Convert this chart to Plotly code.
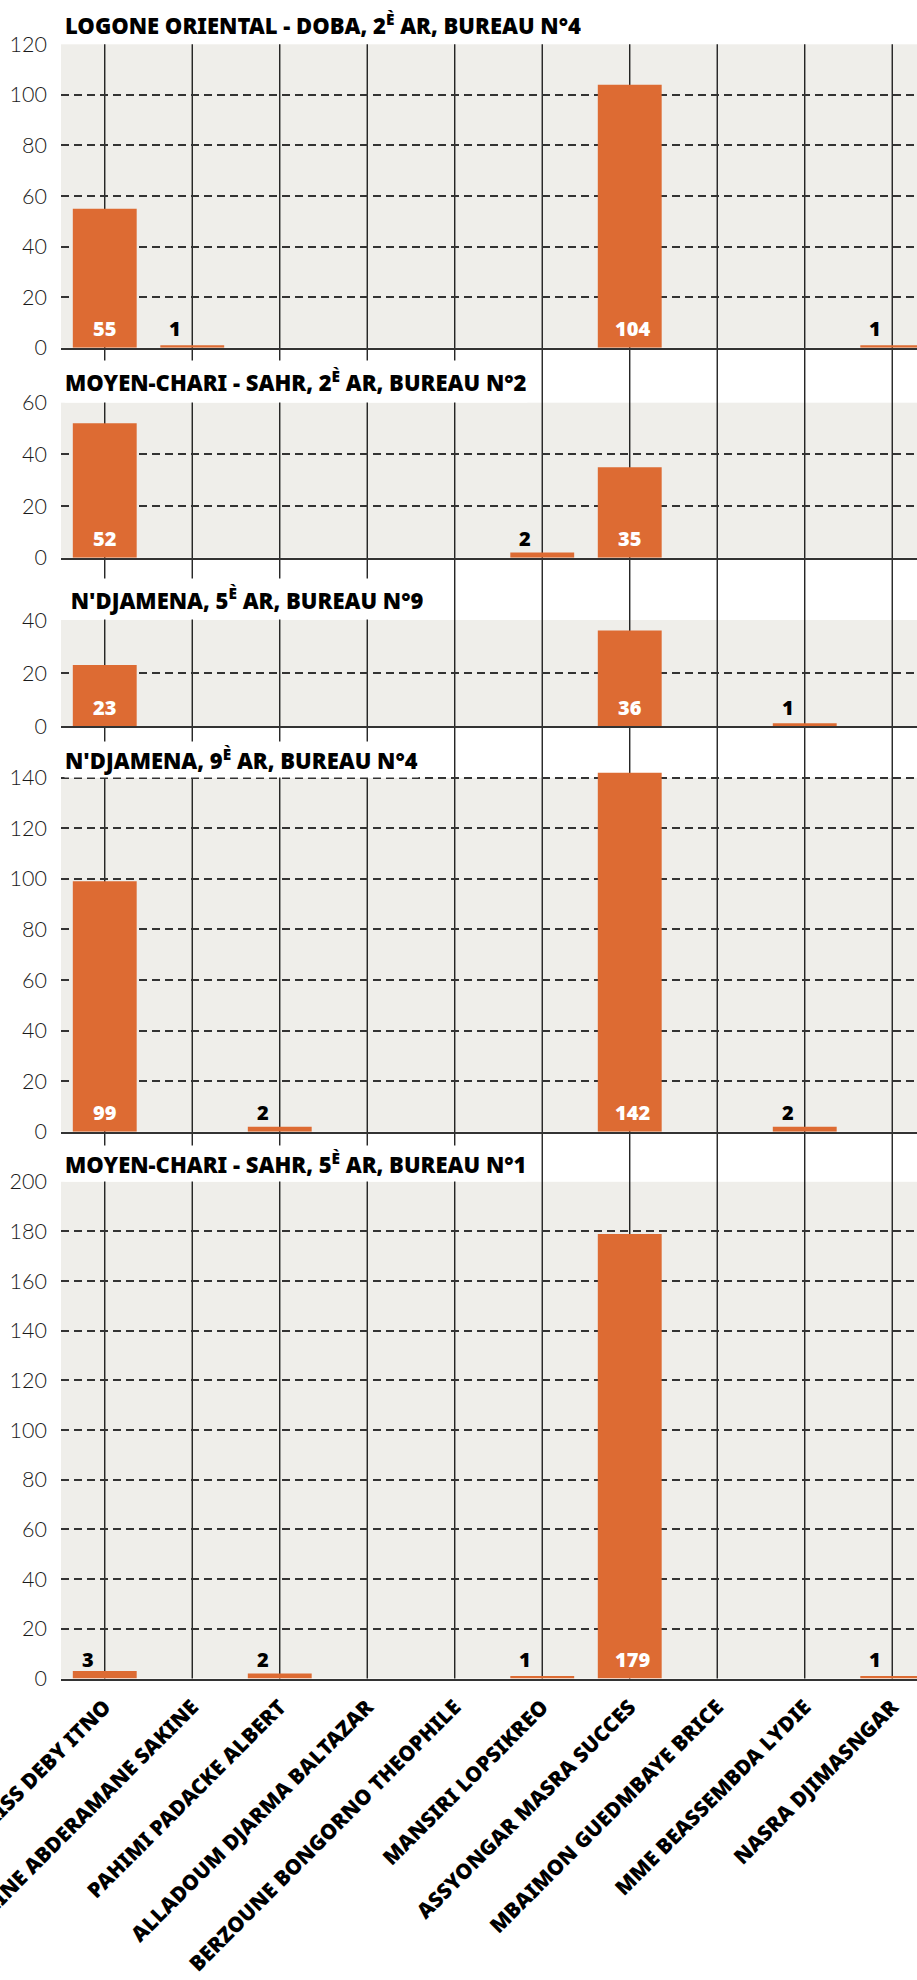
import plotly.graph_objects as go

# ---------------- data ----------------
candidates = [
    "IDRISS DEBY ITNO",
    "HISSEINE ABDERAMANE SAKINE",
    "PAHIMI PADACKE ALBERT",
    "ALLADOUM DJARMA BALTAZAR",
    "BERZOUNE BONGORNO THEOPHILE",
    "MANSIRI LOPSIKREO",
    "ASSYONGAR MASRA SUCCES",
    "MBAIMON GUEDMBAYE BRICE",
    "MME BEASSEMBDA LYDIE",
    "NASRA DJIMASNGAR",
]

panel_titles = [
    "LOGONE ORIENTAL - DOBA, 2<sup>È</sup> AR, BUREAU N°4",
    "MOYEN-CHARI - SAHR, 2<sup>È</sup> AR, BUREAU N°2",
    " N'DJAMENA, 5<sup>È</sup> AR, BUREAU N°9",
    "N'DJAMENA, 9<sup>È</sup> AR, BUREAU N°4",
    "MOYEN-CHARI - SAHR, 5<sup>È</sup> AR, BUREAU N°1",
]

votes_logone_doba = [55, 1, 0, 0, 0, 0, 104, 0, 0, 1]
votes_sahr_2 = [52, 0, 0, 0, 0, 2, 35, 0, 0, 0]
votes_ndjamena_5 = [23, 0, 0, 0, 0, 0, 36, 0, 1, 0]
votes_ndjamena_9 = [99, 0, 2, 0, 0, 0, 142, 0, 2, 0]
votes_sahr_5 = [3, 0, 2, 0, 0, 1, 179, 0, 0, 1]

y_axis_max = [120, 60, 40, 140, 200]

panels = [votes_logone_doba, votes_sahr_2, votes_ndjamena_5, votes_ndjamena_9, votes_sahr_5]

# ---------------- layout geometry (pixels) ----------------
W, H = 917, 1980
ML = 61
plot_tops = [44.3, 402.7, 620.0, 777.7, 1181.8]        # pixel of y_axis_max
plot_bottoms = [347.7, 557.7, 726.0, 1131.7, 1678.5]   # pixel of 0
title_box_tops = [6.0, 362.0, 580.0, 743.0, 1147.0]

ORANGE = "#DD6B33"
BG = "#EFEEEA"
HEAVY = "'Noto Sans', Roboto, sans-serif"
LIGHT = "Lato, 'Open Sans', sans-serif"

def py(p):
    return 1 - p / H

fig = go.Figure()
layout = dict(
    width=W, height=H,
    margin=dict(l=ML, r=0, t=0, b=0, pad=0),
    paper_bgcolor="white",
    plot_bgcolor=BG,
    showlegend=False,
    bargap=0.27,
    annotations=[],
    shapes=[],
)

n = len(panels)
xrange = [-0.5, 9.283]
for i, vals in enumerate(panels):
    k = i + 1
    xs = "x" if k == 1 else f"x{k}"
    ys = "y" if k == 1 else f"y{k}"
    ymax = y_axis_max[i]
    rtop = max(ymax, max(vals) + 1)
    ppu = (plot_bottoms[i] - plot_tops[i]) / ymax
    dom_top_px = plot_bottoms[i] - rtop * ppu
    if dom_top_px < plot_tops[i] - 0.5:
        # white strip above the last tick so the background stops at the last gridline
        layout["shapes"].append(dict(
            type="rect", xref="paper", yref="paper", x0=0, x1=1,
            y0=py(plot_tops[i]), y1=py(dom_top_px) + 0.001,
            fillcolor="white", line=dict(width=0), layer="below",
        ))
    fig.add_trace(go.Bar(
        x=candidates, y=vals, xaxis=xs, yaxis=ys,
        marker=dict(color=ORANGE, line=dict(width=0)),
        hoverinfo="x+y",
    ))
    last = (k == n)
    layout[f"xaxis{'' if k == 1 else k}"] = dict(
        domain=[0, 1], anchor=ys, type="category",
        categoryorder="array", categoryarray=candidates,
        range=xrange, showgrid=False, zeroline=False,
        showline=True, linecolor="#333", linewidth=2,
        ticks="", showticklabels=last,
        tickangle=-45,
        tickfont=dict(family=HEAVY, size=21, color="#000", weight=900),
        ticklabelstandoff=6,
        automargin=False,
        **({} if k == 1 else {"matches": "x"}),
    )
    layout[f"yaxis{'' if k == 1 else k}"] = dict(
        domain=[py(plot_bottoms[i]), py(dom_top_px)], anchor=xs,
        range=[0, rtop], dtick=20,
        showgrid=True, gridcolor="#333", gridwidth=1.5, griddash="8px,5px",
        zeroline=False, showline=False, ticks="",
        tickfont=dict(family=LIGHT, size=21.5, color="#1a1a1a", weight=300),
        ticklabelstandoff=13, automargin=False,
    )
    # value labels
    for name, v in zip(candidates, vals):
        if v <= 0:
            continue
        big = v >= 10
        layout["annotations"].append(dict(
            x=name, y=0, xref=xs, yref=ys, text=str(v), showarrow=False,
            yanchor="middle", xanchor="center", yshift=19,
            xshift=(3 if v >= 100 else 0) if big else -17,
            font=dict(family=HEAVY, size=20, color="white" if big else "#000", weight=900),
        ))
    # panel title with white box
    box_h = plot_tops[i] - title_box_tops[i]
    layout["annotations"].append(dict(
        x=0, y=py(plot_tops[i]), xref="paper", yref="paper",
        xanchor="left", yanchor="bottom", showarrow=False,
        text=panel_titles[i], align="left", valign="middle",
        height=box_h, bgcolor="white", borderpad=0, xshift=3,
        font=dict(family=HEAVY, size=22, color="#000", weight=900),
    ))

# continuous vertical category lines across all panels
for name in candidates:
    layout["shapes"].append(dict(
        type="line", xref="x5", yref="paper",
        x0=name, x1=name, y0=py(plot_bottoms[-1]), y1=py(plot_tops[0]),
        line=dict(color="#111", width=1.3), layer="below",
    ))

fig.update_layout(**layout)
fig.write_html("out.html", config={"displayModeBar": False},
               post_script="document.body.style.margin='0';")
